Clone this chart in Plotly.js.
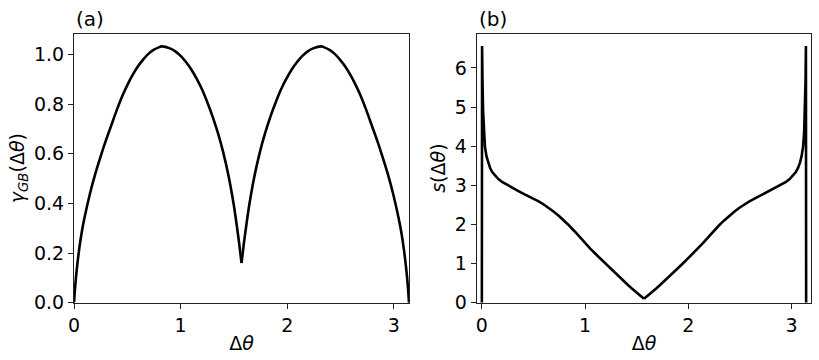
<!DOCTYPE html>
<html>
<head>
<meta charset="utf-8">
<script src="https://cdn.plot.ly/plotly-3.0.1.min.js"></script>
<style>html,body{margin:0;padding:0;background:#fff;}#chart{width:819px;height:360px;}</style>
</head>
<body>
<div id="chart"></div>
<script>
// Panel (a): grain boundary energy, two branches meeting at the cusp
const gammaLeftX = [0, 0.01, 0.025, 0.05, 0.075, 0.1, 0.15, 0.2, 0.25, 0.3, 0.35, 0.4, 0.45, 0.5, 0.55, 0.6, 0.65, 0.7, 0.75, 0.8, 0.82, 0.9, 0.95, 1.0, 1.05, 1.1, 1.15, 1.2, 1.25, 1.3, 1.35, 1.4, 1.45, 1.5, 1.53, 1.55, 1.571];
const gammaLeftY = [0, 0.06, 0.13, 0.22, 0.29, 0.345, 0.44, 0.52, 0.59, 0.655, 0.715, 0.775, 0.83, 0.877, 0.918, 0.953, 0.981, 1.004, 1.02, 1.03, 1.033, 1.025, 1.013, 0.995, 0.970, 0.940, 0.903, 0.860, 0.808, 0.750, 0.683, 0.605, 0.510, 0.390, 0.300, 0.235, 0.16];
const gammaRightX = [1.571, 1.592, 1.612, 1.642, 1.692, 1.742, 1.792, 1.842, 1.892, 1.942, 1.992, 2.042, 2.092, 2.142, 2.192, 2.242, 2.322, 2.342, 2.392, 2.442, 2.492, 2.542, 2.592, 2.642, 2.692, 2.742, 2.792, 2.842, 2.892, 2.942, 2.992, 3.042, 3.067, 3.092, 3.117, 3.132, 3.1416];
const gammaRightY = [0.16, 0.235, 0.300, 0.390, 0.510, 0.605, 0.683, 0.750, 0.808, 0.860, 0.903, 0.940, 0.970, 0.995, 1.013, 1.025, 1.033, 1.03, 1.02, 1.004, 0.981, 0.953, 0.918, 0.877, 0.83, 0.775, 0.715, 0.655, 0.59, 0.52, 0.44, 0.345, 0.29, 0.22, 0.13, 0.06, 0];

// Panel (b): stiffness
const sLeftX = [0, 0.002, 0.006, 0.012, 0.02, 0.03, 0.045, 0.06, 0.08, 0.1, 0.13, 0.16, 0.2, 0.25, 0.3, 0.35, 0.4, 0.45, 0.5, 0.55, 0.6, 0.65, 0.7, 0.75, 0.8, 0.85, 0.9, 0.95, 1.0, 1.05, 1.1, 1.15, 1.2, 1.25, 1.3, 1.35, 1.4, 1.45, 1.5, 1.571];
const sLeftY = [0, 6.56, 5.7, 4.9, 4.35, 3.98, 3.74, 3.58, 3.44, 3.34, 3.24, 3.16, 3.08, 3.00, 2.93, 2.86, 2.79, 2.73, 2.66, 2.59, 2.51, 2.42, 2.32, 2.21, 2.09, 1.96, 1.82, 1.67, 1.52, 1.38, 1.25, 1.12, 0.99, 0.86, 0.73, 0.61, 0.49, 0.37, 0.25, 0.10];
const sRightX = [1.571, 1.642, 1.692, 1.742, 1.792, 1.842, 1.892, 1.942, 1.992, 2.042, 2.092, 2.142, 2.192, 2.242, 2.292, 2.342, 2.392, 2.442, 2.492, 2.542, 2.592, 2.642, 2.692, 2.742, 2.792, 2.842, 2.892, 2.942, 2.982, 3.012, 3.042, 3.062, 3.082, 3.097, 3.112, 3.122, 3.130, 3.136, 3.1396, 3.1416];
const sRightY = [0.10, 0.25, 0.37, 0.49, 0.61, 0.73, 0.86, 0.99, 1.12, 1.25, 1.38, 1.52, 1.67, 1.82, 1.96, 2.09, 2.21, 2.32, 2.42, 2.51, 2.59, 2.66, 2.73, 2.79, 2.86, 2.93, 3.00, 3.08, 3.16, 3.24, 3.34, 3.44, 3.58, 3.74, 3.98, 4.35, 4.9, 5.7, 6.56, 0];

const xTicks = [0, 1, 2, 3];
const yTicksA = [0, 0.2, 0.4, 0.6, 0.8, 1.0];
const yTicksB = [0, 1, 2, 3, 4, 5, 6];
const panelLabels = ['(a)', '(b)'];
const xLabel = 'Δ<i>θ</i>';
const yLabelA = '<i>γ</i><sub><i>GB</i></sub>(Δ<i>θ</i>)';
const yLabelB = '<i>s</i>(Δ<i>θ</i>)';

const lineStyle = {color: '#000', width: 2.6};
const traces = [
  {x: gammaLeftX, y: gammaLeftY, xaxis: 'x', yaxis: 'y', mode: 'lines', line: Object.assign({shape: 'spline', smoothing: 0.8}, lineStyle), hoverinfo: 'skip'},
  {x: gammaRightX, y: gammaRightY, xaxis: 'x', yaxis: 'y', mode: 'lines', line: Object.assign({shape: 'spline', smoothing: 0.8}, lineStyle), hoverinfo: 'skip'},
  {x: sLeftX, y: sLeftY, xaxis: 'x2', yaxis: 'y2', mode: 'lines', line: Object.assign({shape: 'linear'}, lineStyle), hoverinfo: 'skip'},
  {x: sRightX, y: sRightY, xaxis: 'x2', yaxis: 'y2', mode: 'lines', line: Object.assign({shape: 'linear'}, lineStyle), hoverinfo: 'skip'}
];

const font = {family: 'DejaVu Sans, sans-serif', size: 19, color: '#000'};
const axisCommon = {
  showline: true, linecolor: '#222', linewidth: 1, mirror: true,
  ticks: 'outside', ticklen: 5, tickwidth: 1, tickcolor: '#222',
  showgrid: false, zeroline: false, tickfont: font
};
const dA = [74/819, 409/819];
const dB = [476.7/819, 811.3/819];
const dY = [57.3/360, 326.5/360];

const layout = {
  width: 819, height: 360,
  margin: {l: 0, r: 0, t: 0, b: 0},
  paper_bgcolor: '#fff', plot_bgcolor: '#fff',
  showlegend: false, font: font,
  xaxis: Object.assign({}, axisCommon, {domain: dA, range: [0, Math.PI], tickvals: xTicks, anchor: 'y',
    title: {text: xLabel, font: font, standoff: 2}}),
  yaxis: Object.assign({}, axisCommon, {domain: dY, range: [0, 1.085], tickvals: yTicksA, tickformat: '.1f', anchor: 'x',
    title: {text: yLabelA, font: font, standoff: 4}}),
  xaxis2: Object.assign({}, axisCommon, {domain: dB, range: [-0.05, Math.PI + 0.05], tickvals: xTicks, anchor: 'y2',
    title: {text: xLabel, font: font, standoff: 2}}),
  yaxis2: Object.assign({}, axisCommon, {domain: dY, range: [0, 6.88], tickvals: yTicksB, anchor: 'x2',
    title: {text: yLabelB, font: font, standoff: 4}}),
  annotations: [
    {text: panelLabels[0], xref: 'paper', yref: 'paper', x: dA[0], y: dY[1], xanchor: 'left', yanchor: 'bottom', yshift: 1, showarrow: false, font: {family: font.family, size: 20, color: '#000'}},
    {text: panelLabels[1], xref: 'paper', yref: 'paper', x: dB[0], y: dY[1], xanchor: 'left', yanchor: 'bottom', yshift: 1, showarrow: false, font: {family: font.family, size: 20, color: '#000'}}
  ]
};

Plotly.newPlot('chart', traces, layout, {staticPlot: true, displayModeBar: false});
</script>
</body>
</html>
